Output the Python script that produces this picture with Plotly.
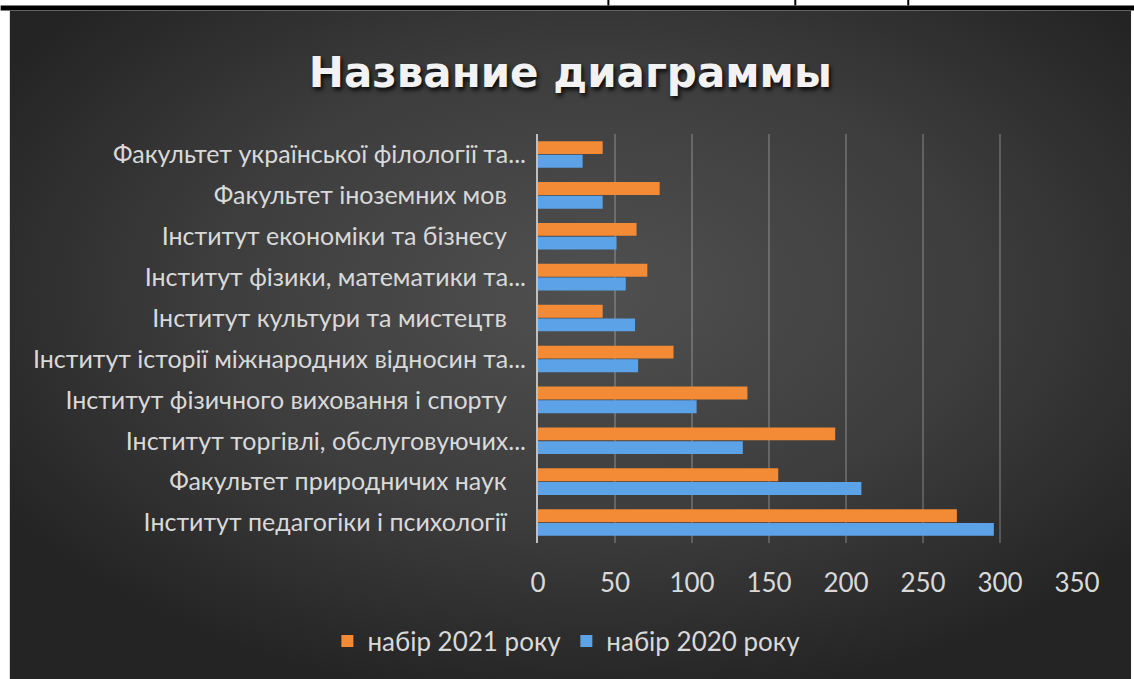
import base64
import plotly.graph_objects as go

# ---- data (bottom-to-top category order, as in the source chart) ----
categories = [
    "Інститут педагогіки і психології",
    "Факультет природничих наук",
    "Інститут торгівлі, обслуговуючих...",
    "Інститут фізичного виховання і спорту",
    "Інститут історії міжнародних відносин та...",
    "Інститут культури та мистецтв",
    "Інститут фізики, математики та...",
    "Інститут економіки та бізнесу",
    "Факультет іноземних мов",
    "Факультет української філології та...",
]
values_2021 = [272, 156, 193, 136, 88, 42, 71, 64, 79, 42]
values_2020 = [296, 210, 133, 103, 65, 63, 57, 51, 42, 29]
series_names = ["набір 2020 року", "набір 2021 року"]
title_text = "Название диаграммы"
x_ticks = [0, 50, 100, 150, 200, 250, 300, 350]

# ---- layout geometry (pixels) ----
W, H = 1134, 679
PL, PR, PT, PB = 537.6, 1076.8, 134.4, 542.9


def px(x):
    return (x - PL) / (PR - PL)


def py(y):
    return (PB - y) / (PB - PT)


# trailing padding so un-truncated labels end a bit left of truncated ones
labels = [c if c.endswith("...") else c + "\u00a0\u00a0\u00a0" for c in categories]

LABEL_FONT = dict(family="Lato, 'Open Sans', sans-serif", size=25, color="#d9d9d9")

fig = go.Figure()
fig.add_trace(go.Bar(
    y=labels, x=values_2020, name=series_names[0], orientation="h",
    marker=dict(color="#5BA3E6", line=dict(width=0)),
))
fig.add_trace(go.Bar(
    y=labels, x=values_2021, name=series_names[1], orientation="h",
    marker=dict(color="#F38A35", line=dict(width=0)),
))

# radial gradient background as an embedded SVG
bg_w, bg_h = 1122, 668
svg = (
    f"<svg xmlns='http://www.w3.org/2000/svg' width='{bg_w}' height='{bg_h}' "
    f"viewBox='0 0 {bg_w} {bg_h}' preserveAspectRatio='none'>"
    "<defs><radialGradient id='g' cx='52%' cy='42%' r='62%'>"
    "<stop offset='0' stop-color='#505050'/>"
    "<stop offset='0.55' stop-color='#3d3d3d'/>"
    "<stop offset='1' stop-color='#242424'/>"
    "</radialGradient></defs>"
    f"<rect width='{bg_w}' height='{bg_h}' fill='url(#g)'/></svg>"
)
src = "data:image/svg+xml;base64," + base64.b64encode(svg.encode()).decode()

bg_x0, bg_y0 = 9, 11
fig.add_layout_image(dict(
    source=src, xref="paper", yref="paper",
    x=px(bg_x0), y=py(bg_y0),
    sizex=bg_w / (PR - PL), sizey=bg_h / (PB - PT),
    xanchor="left", yanchor="top", sizing="stretch", layer="below",
))

shapes = []
# document table lines above the chart
shapes.append(dict(type="rect", xref="paper", yref="paper",
                   x0=px(0), x1=px(W), y0=py(6), y1=py(11),
                   fillcolor="black", line=dict(width=0), layer="above"))
for vx in (608, 795, 908):
    shapes.append(dict(type="line", xref="paper", yref="paper",
                       x0=px(vx), x1=px(vx), y0=py(0), y1=py(6),
                       line=dict(color="black", width=2)))

fig.update_layout(
    width=W, height=H,
    margin=dict(l=PL, r=W - PR, t=PT, b=H - PB, pad=0),
    paper_bgcolor="white",
    plot_bgcolor="rgba(0,0,0,0)",
    barmode="group", bargap=0.33, bargroupgap=0.06,
    shapes=shapes,
    showlegend=True,
    legend=dict(
        orientation="h", traceorder="reversed",
        x=px(566), xanchor="center", y=py(641), yanchor="middle",
        font=dict(LABEL_FONT, size=26), bgcolor="rgba(0,0,0,0)",
        itemwidth=30, itemsizing="constant",
    ),
    title=dict(
        text=title_text, xref="paper", x=px(570), xanchor="center",
        yref="container", y=1 - 72 / H, yanchor="middle",
        font=dict(family="'DejaVu Sans', sans-serif", size=42, color="#f2f2f2",
                  weight="bold", shadow="2px 3px 4px rgba(0,0,0,0.85)"),
    ),
    xaxis=dict(
        range=[0, 350], tickvals=x_ticks, ticktext=[str(t) for t in x_ticks],
        showgrid=True, gridcolor="rgba(255,255,255,0.2)", gridwidth=1.5,
        zeroline=False, showline=False, ticks="",
        ticklabelstandoff=22,
        tickfont=dict(family="Lato, sans-serif", size=26, color="#d9d9d9"),
        fixedrange=True,
    ),
    yaxis=dict(
        showgrid=False, zeroline=False, showline=True,
        linecolor="#bfbfbf", linewidth=2, ticks="",
        ticklabelstandoff=5,
        tickfont=LABEL_FONT, fixedrange=True,
    ),
)

fig.write_html("out.html", config={"displayModeBar": False},
               post_script="document.body.style.margin='0';")
